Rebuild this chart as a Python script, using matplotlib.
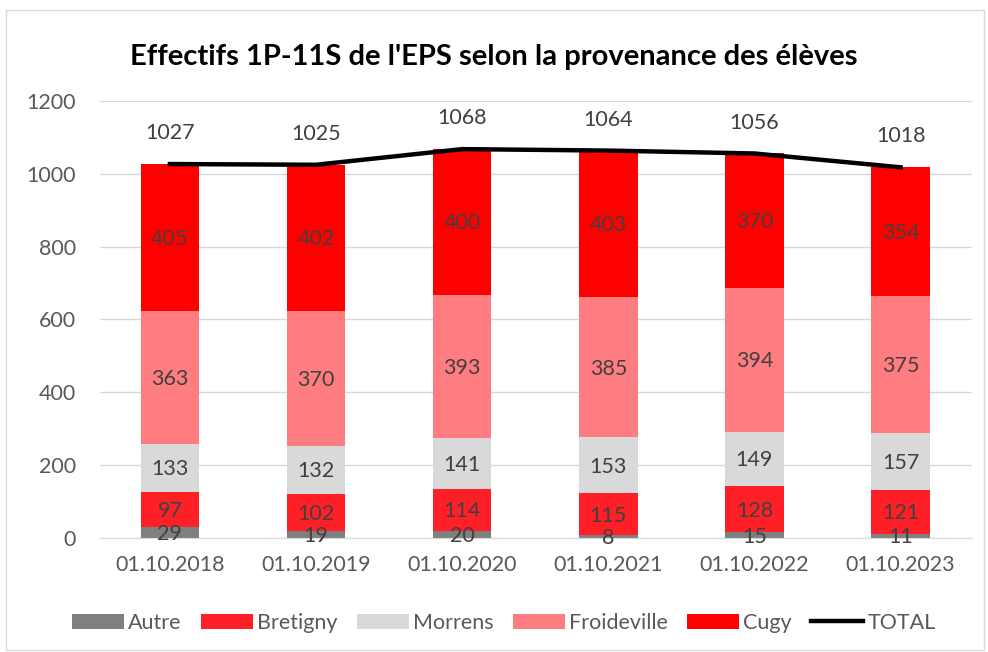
import matplotlib.pyplot as plt
import numpy as np
from matplotlib.patches import Rectangle

plt.rcParams['font.family'] = ['Lato', 'DejaVu Sans']

dates = ['01.10.2018', '01.10.2019', '01.10.2020', '01.10.2021', '01.10.2022', '01.10.2023']
autre = [29, 19, 20, 8, 15, 11]
bretigny = [97, 102, 114, 115, 128, 121]
morrens = [133, 132, 141, 153, 149, 157]
froideville = [363, 370, 393, 385, 394, 375]
cugy = [405, 402, 400, 403, 370, 354]
total = [1027, 1025, 1068, 1064, 1056, 1018]

series = [('Autre', autre, '#7f7f7f'),
          ('Bretigny', bretigny, '#ff1f26'),
          ('Morrens', morrens, '#d9d9d9'),
          ('Froideville', froideville, '#ff7c80'),
          ('Cugy', cugy, '#ff0000')]

fs = 15.5

fig = plt.figure(figsize=(9.88, 6.52), dpi=100)
ax = fig.add_axes([0.101, 0.175, 0.883, 0.67])
fig.patches.append(Rectangle((0.006, 0.003), 0.99, 0.982, transform=fig.transFigure,
                             fill=False, edgecolor='#d9d9d9', linewidth=1))

x = np.arange(len(dates))
bottom = np.zeros(len(dates))
for name, vals, color in series:
    vals = np.array(vals)
    ax.bar(x, vals, 0.4, bottom=bottom, color=color, label=name, zorder=2)
    for xi, b, v in zip(x, bottom, vals):
        ax.text(xi, b + v / 2 - 4, str(v), ha='center', va='center',
                fontsize=fs, color='#404040', zorder=3)
    bottom += vals

ax.plot(x, total, color='black', linewidth=3.2, label='TOTAL', zorder=4)
for xi, t in zip(x, total):
    ax.text(xi, t + 85, str(t), ha='center', va='center', fontsize=fs, color='#404040')

ax.set_xlim(-0.48, 5.49)
ax.set_ylim(0, 1200)
ax.set_yticks(range(0, 1201, 200))
ax.set_xticks(x)
ax.set_xticklabels(dates)
ax.tick_params(axis='both', length=0, labelsize=fs, colors='#595959')
ax.tick_params(axis='x', pad=12)
ax.tick_params(axis='y', pad=17)
ax.grid(axis='y', color='#d9d9d9', linewidth=1, zorder=0)
for s in ['top', 'right', 'left']:
    ax.spines[s].set_visible(False)
ax.spines['bottom'].set_color('#d9d9d9')

fig.text(0.5, 0.912, "Effectifs 1P-11S de l'EPS selon la provenance des élèves",
         ha='center', va='center', fontsize=21, fontweight='bold', color='black')

handles, labels = ax.get_legend_handles_labels()
order = [1, 2, 3, 4, 5, 0]
fig.legend([handles[i] for i in order], [labels[i] for i in order],
           loc='center', bbox_to_anchor=(0.51, 0.045), ncol=6, frameon=False,
           fontsize=fs, labelcolor='#595959', handlelength=2.4, handleheight=0.7,
           handletextpad=0.2, columnspacing=0.9)

fig.savefig('out.png', dpi=100)
